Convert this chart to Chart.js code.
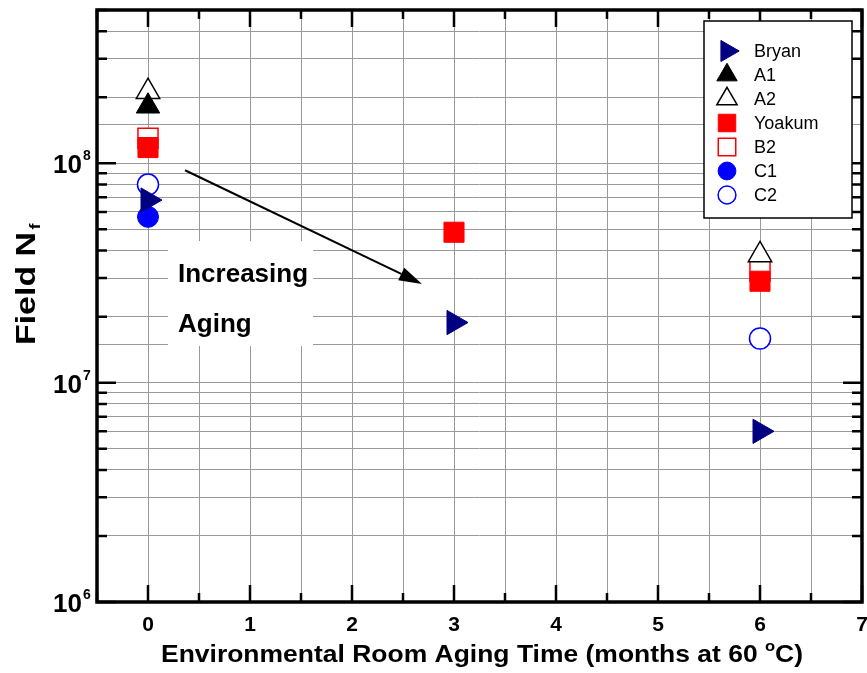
<!DOCTYPE html>
<html>
<head>
<meta charset="utf-8">
<script src="https://cdn.jsdelivr.net/npm/chart.js@4/dist/chart.umd.min.js"></script>
<style>
  body { margin: 0; background: #fff; }
  #wrap { width: 867px; height: 673px; }
</style>
</head>
<body>
<div id="wrap"><canvas id="agingChart" width="867" height="673"></canvas></div>
<script>
// months of aging at 60 C, and field fatigue life for each binder
var bryanX = [0, 3, 6];
var bryanY = [6.8e7, 1.88e7, 6.0e6];
var a1X = [0];
var a1Y = [1.82e8];
var a2X = [0, 6];
var a2Y = [2.12e8, 3.82e7];
var yoakumX = [0, 3, 6];
var yoakumY = [1.18e8, 4.85e7, 2.9e7];
var b2X = [0, 6];
var b2Y = [1.3e8, 3.23e7];
var c1X = [0];
var c1Y = [5.7e7];
var c2X = [0, 6];
var c2Y = [8.0e7, 1.59e7];

var xTicks = [0, 1, 2, 3, 4, 5, 6, 7];
var yDecades = [6, 7, 8];

var FONT = '"Liberation Sans", Arial, sans-serif';

function pts(xs, ys) {
    return xs.map(function (x, i) { return { x: x, y: ys[i] }; });
}

function series(label, xs, ys, color, style, open, r, rot) {
    return {
        label: label,
        data: pts(xs, ys),
        showLine: false,
        pointStyle: style,
        pointRadius: r,
        pointRotation: rot || 0,
        backgroundColor: open ? '#ffffff' : color,
        borderColor: color,
        borderWidth: open ? 1.5 : 1
    };
}

var datasets = [
    series('Bryan', bryanX, bryanY, '#000080', 'triangle', false, 14, 90),
    series('A1', a1X, a1Y, '#000000', 'triangle', false, 13.5),
    series('A2', a2X, a2Y, '#000000', 'triangle', true, 13.5),
    series('Yoakum', yoakumX, yoakumY, '#ff0000', 'rect', false, 14.2),
    series('B2', b2X, b2Y, '#ff0000', 'rect', true, 14.2),
    series('C1', c1X, c1Y, '#0000ff', 'circle', false, 10.5),
    series('C2', c2X, c2Y, '#0000ff', 'circle', true, 10.5)
];

function marker(ctx, ds, x, y, scale) {
    ctx.save();
    ctx.fillStyle = ds.backgroundColor;
    ctx.strokeStyle = ds.borderColor;
    ctx.lineWidth = ds.borderWidth;
    Chart.helpers.drawPoint(ctx, {
        pointStyle: ds.pointStyle,
        radius: ds.pointRadius * scale,
        rotation: ds.pointRotation,
        borderWidth: ds.borderWidth
    }, x, y);
    ctx.restore();
}

// "Increasing Aging" note with its arrow, drawn under the markers
var notePlugin = {
    id: 'note',
    beforeDatasetsDraw: function (chart) {
        var ctx = chart.ctx, xs = chart.scales.x, ys = chart.scales.y;
        ctx.save();
        ctx.fillStyle = '#ffffff';
        ctx.fillRect(168, 241, 145, 105);
        ctx.fillStyle = '#000';
        ctx.font = 'bold 26px ' + FONT;
        ctx.textAlign = 'left';
        ctx.textBaseline = 'alphabetic';
        ctx.fillText('Increasing', 178, 282);
        ctx.fillText('Aging', 178, 332);

        var x0 = xs.getPixelForValue(0.363), y0 = ys.getPixelForValue(9.3e7);
        var x1 = xs.getPixelForValue(2.686), y1 = ys.getPixelForValue(2.82e7);
        var ang = Math.atan2(y1 - y0, x1 - x0);
        var hl = 23, hw = 7;
        ctx.strokeStyle = '#000';
        ctx.lineWidth = 2;
        ctx.beginPath();
        ctx.moveTo(x0, y0);
        ctx.lineTo(x1 - Math.cos(ang) * hl, y1 - Math.sin(ang) * hl);
        ctx.stroke();
        ctx.beginPath();
        ctx.moveTo(x1, y1);
        ctx.lineTo(x1 - Math.cos(ang) * hl + Math.sin(ang) * hw, y1 - Math.sin(ang) * hl - Math.cos(ang) * hw);
        ctx.lineTo(x1 - Math.cos(ang) * hl - Math.sin(ang) * hw, y1 - Math.sin(ang) * hl + Math.cos(ang) * hw);
        ctx.closePath();
        ctx.fill();
        ctx.restore();
    }
};

// frame, inward ticks, tick labels, axis titles and the boxed legend
var framePlugin = {
    id: 'frame',
    afterDraw: function (chart) {
        var ctx = chart.ctx, a = chart.chartArea;
        var xs = chart.scales.x, ys = chart.scales.y;
        ctx.save();
        ctx.strokeStyle = '#000';
        ctx.lineCap = 'butt';

        ctx.lineWidth = 2.5;
        ctx.beginPath();
        for (var v = -0.5; v <= 7; v += 0.5) {
            var px = xs.getPixelForValue(v);
            var len = (v % 1 === 0) ? 17 : 9;
            ctx.moveTo(px, a.bottom); ctx.lineTo(px, a.bottom - len);
            ctx.moveTo(px, a.top); ctx.lineTo(px, a.top + len);
        }
        yDecades.concat([9]).forEach(function (e) {
            for (var m = 1; m <= 9; m++) {
                var val = m * Math.pow(10, e - 1);
                if (val < 1e6 || val > 5e8) continue;
                var py = ys.getPixelForValue(val);
                var l = (m === 1) ? 19 : 10;
                ctx.moveTo(a.left, py); ctx.lineTo(a.left + l, py);
                ctx.moveTo(a.right, py); ctx.lineTo(a.right - l, py);
            }
        });
        ctx.stroke();

        ctx.lineWidth = 3.5;
        ctx.strokeRect(a.left, a.top, a.right - a.left, a.bottom - a.top);

        ctx.fillStyle = '#000';
        ctx.textBaseline = 'alphabetic';
        ctx.font = 'bold 21px ' + FONT;
        ctx.textAlign = 'center';
        xTicks.forEach(function (t) {
            ctx.fillText(String(t), xs.getPixelForValue(t), 631);
        });

        yDecades.forEach(function (e) {
            var py = ys.getPixelForValue(Math.pow(10, e));
            ctx.textAlign = 'right';
            ctx.font = 'bold 26px ' + FONT;
            ctx.fillText('10', 82, py + 10);
            ctx.textAlign = 'left';
            ctx.font = 'bold 14px ' + FONT;
            ctx.fillText(String(e), 83, py - 3);
        });

        // x title with a raised degree mark, spanning 161..803
        var t1 = 'Environmental Room Aging Time (months at 60 ', t2 = 'o', t3 = 'C)';
        ctx.font = 'bold 24px ' + FONT;
        var w1 = ctx.measureText(t1).width, w3 = ctx.measureText(t3).width;
        ctx.font = 'bold 15px ' + FONT;
        var w2 = ctx.measureText(t2).width;
        var k = 642 / (w1 + w2 + w3);
        ctx.save();
        ctx.translate(161, 662);
        ctx.scale(k, 1);
        ctx.textAlign = 'left';
        ctx.font = 'bold 24px ' + FONT;
        ctx.fillText(t1, 0, 0);
        ctx.fillText(t3, w1 + w2, 0);
        ctx.font = 'bold 15px ' + FONT;
        ctx.fillText(t2, w1, -11);
        ctx.restore();

        // y title, rotated, with subscript f
        ctx.save();
        ctx.translate(35, 345);
        ctx.rotate(-Math.PI / 2);
        ctx.textAlign = 'left';
        ctx.font = 'bold 28px ' + FONT;
        var wn = ctx.measureText('Field N').width;
        var ky = 113 / wn;
        ctx.scale(ky, 1);
        ctx.fillText('Field N', 0, 0);
        ctx.font = 'bold 15px ' + FONT;
        ctx.fillText('f', wn + 2, 5);
        ctx.restore();

        // legend
        ctx.fillStyle = '#fff';
        ctx.fillRect(704, 21, 148, 197);
        ctx.lineWidth = 1.5;
        ctx.strokeStyle = '#000';
        ctx.strokeRect(704, 21, 148, 197);
        ctx.font = '18px ' + FONT;
        ctx.textBaseline = 'middle';
        chart.data.datasets.forEach(function (ds, i) {
            var ry = 51 + i * 24;
            marker(ctx, ds, 727, ry, ds.pointStyle === 'circle' ? 0.85 : 0.87);
            ctx.fillStyle = '#000';
            ctx.textAlign = 'left';
            ctx.fillText(ds.label, 754, ry + 1);
        });
        ctx.restore();
    }
};

var ctx = document.getElementById('agingChart').getContext('2d');
var chart = new Chart(ctx, {
    type: 'scatter',
    data: { datasets: datasets },
    plugins: [notePlugin, framePlugin],
    options: {
        responsive: false,
        animation: false,
        events: [],
        layout: { autoPadding: false, padding: { top: 10, right: 5, left: 0, bottom: 0 } },
        plugins: {
            legend: { display: false },
            tooltip: { enabled: false }
        },
        scales: {
            x: {
                type: 'linear',
                min: -0.5,
                max: 7,
                ticks: { stepSize: 0.5, display: false, autoSkip: false },
                grid: { color: '#999999', lineWidth: 1, drawTicks: false },
                border: { display: false },
                afterFit: function (s) { s.height = 71; }
            },
            y: {
                type: 'logarithmic',
                min: 1e6,
                max: 5e8,
                ticks: { display: false, autoSkip: false },
                grid: { color: '#999999', lineWidth: 1, drawTicks: false },
                border: { display: false },
                afterFit: function (s) { s.width = 97; }
            }
        }
    }
});
</script>
</body>
</html>
